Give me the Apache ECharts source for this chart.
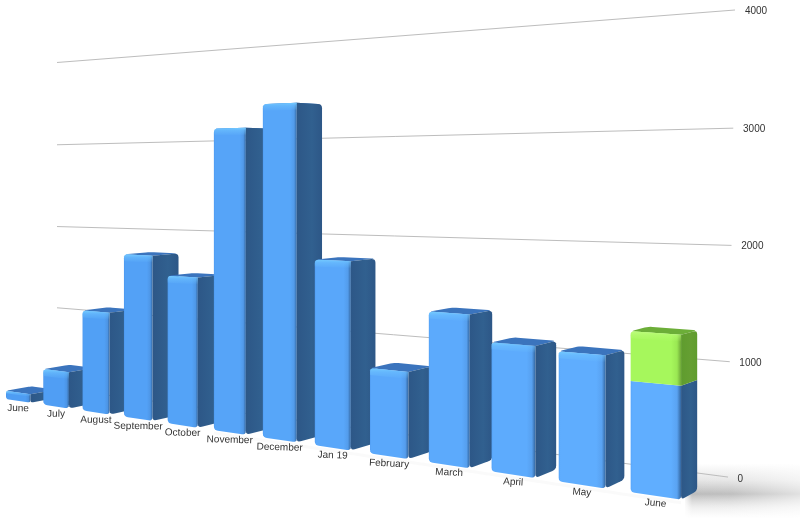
<!DOCTYPE html>
<html>
<head>
<meta charset="utf-8">
<style>html,body{margin:0;padding:0;background:#fff}#c{width:800px;height:519px}</style>
<script src="https://cdn.jsdelivr.net/npm/echarts@6/dist/echarts.min.js"></script>
</head>
<body>
<div id="c"></div>
<script>
const categories = ['June','July','August','September','October','November','December','Jan 19','February','March','April','May','June'];
const baseValues = [100,420,1150,1820,1610,3200,3440,1860,830,1420,1180,1150,950];
const extraValues = [0,0,0,0,0,0,0,0,0,0,0,0,425];
const tickValues = [0,1000,2000,3000,4000];

// Perspective of the picture plane
const planeLeft = 57, planeRight = 735, planeHeight = 468;
const farRatio = 0.6966;
const ratio = x => farRatio + (1 - farRatio) * (x - planeLeft) / (planeRight - planeLeft);
const wallFloor = x => 388.5 + (478 - 388.5) * (x - planeLeft) / (planeRight - planeLeft);
const wallBend = h => h - 6 * (h / planeHeight) * (1 - h / planeHeight);
const frontFloor = x => 403 + 0.149 * (x - 32);
const FRONT_GAIN = 1.05;
const projX = t => (6 + 36.2 * t) / (1 - 0.02514 * t);
const depth = x => 26 - 3.5e-5 * (x - 150) * (x - 150);
const VP = [1300, 160];
const back = (x, y) => { const d = depth(x); return [x + d, y + (VP[1] - y) / (VP[0] - x) * d]; };
const BAR_W = 0.66;

const mix = (a, b, k) => {
  const p = s => [1, 3, 5].map(n => parseInt(s.substr(n, 2), 16));
  const A = p(a), B = p(b);
  return 'rgb(' + A.map((v, n) => Math.round(v + (B[n] - v) * k)).join(',') + ')';
};
const grad = (x0, y0, x1, y1, stops) => new echarts.graphic.LinearGradient(x0, y0, x1, y1, stops.map(s => ({offset: s[0], color: s[1]})));

// Replace polygon corners by small curves; radii holds one radius per corner
function rounded(points, radii) {
  const out = [], n = points.length;
  points.forEach((p, j) => {
    const r = radii[j];
    if (!r) { out.push(p); return; }
    const a = points[(j + n - 1) % n], b = points[(j + 1) % n];
    const to = (q) => { const dx = q[0] - p[0], dy = q[1] - p[1], l = Math.hypot(dx, dy) || 1, m = Math.min(r, l / 2); return [p[0] + dx / l * m, p[1] + dy / l * m]; };
    const s = to(a), e = to(b);
    for (let u = 0; u <= 1.001; u += 0.25) {
      const v = 1 - u;
      out.push([v * v * s[0] + 2 * v * u * p[0] + u * u * e[0], v * v * s[1] + 2 * v * u * p[1] + u * u * e[1]]);
    }
  });
  return out;
}
const poly = (points, fill) => ({type: 'polygon', shape: {points}, style: {fill}});

function heightOf(api, v) { return api.coord([0, 0])[1] - api.coord([0, v])[1]; }
function tOf(api, i) { return (api.coord([i, 0])[0] - api.coord([0, 0])[0]) / api.size([1, 0])[0]; }

function segment(api, xl, xr, from, to, pal, withTop) {
  const h = v => FRONT_GAIN * heightOf(api, v);
  const yAt = (x, v) => frontFloor(x) - h(v) * ratio(x);
  const fl0 = [xl, yAt(xl, from)], fr0 = [xr, yAt(xr, from)];
  const fl1 = [xl, yAt(xl, to)], fr1 = [xr, yAt(xr, to)];
  const br0 = back(fr0[0], fr0[1]), br1 = back(fr1[0], fr1[1]), bl1 = back(fl1[0], fl1[1]);
  const atFloor = from === 0, tall = fr0[1] - fr1[1];
  const R = Math.min(4, tall / 3), Rb = atFloor ? Math.min(4, tall / 3) : 0, Rt = withTop ? R : 0;
  const out = [];
  if (withTop) out.push(poly(rounded([fl1, fr1, br1, bl1], [R, 0, R, R]), pal.top));
  out.push(poly(rounded([fr0, br0, br1, fr1], [Rb, Rb, Rt, 0]),
    grad(0, 0, 1, 0, [[0, pal.sideA], [0.6, pal.sideB], [1, pal.sideA]])));
  const f = grad(0, 0, 1, 0, [[0, pal.front0], [0.04, pal.front], [0.8, pal.front], [0.92, pal.frontEdge], [1, pal.sideEdge]]);
  out.push(poly(rounded([fl0, fr0, fr1, fl1], [Rb, Rb, 0, Rt]), f));
  if (withTop) {
    const hl = Math.min(7, Math.max(2, tall * 0.3));
    out.push(poly(rounded([fl1, fr1, [xr, fr1[1] + hl], [xl, fl1[1] + hl]], [R, 0, 0, 0]),
      grad(0, 0, 0, 1, [[0, pal.hi], [0.35, pal.hiMid], [1, pal.hiEnd]])));
  }
  return out;
}

const blue = k => ({
  top: '#3b74bd', sideA: '#2d5787', sideB: '#31608f',
  front0: mix('#4791e8', '#57a6fb', k), front: mix('#4e9df3', '#60aeff', k),
  frontEdge: mix('#4a92e2', '#5aa3f2', k), sideEdge: '#33669f',
  hi: '#74caff', hiMid: 'rgba(110,195,255,0.55)', hiEnd: 'rgba(111,196,255,0)'
});
const green = {
  top: '#6cae38', sideA: '#5f9c2e', sideB: '#659f32',
  front0: '#a6f75c', front: '#a6f75c', frontEdge: '#9ae853', sideEdge: '#6ea838',
  hi: '#bcfc7c', hiMid: 'rgba(186,252,120,0.55)', hiEnd: 'rgba(182,251,114,0)'
};

const chart = echarts.init(document.getElementById('c'), null, {renderer: 'canvas'});
chart.setOption({
  animation: false,
  backgroundColor: '#fff',
  grid: {left: planeLeft, right: 800 - planeRight, top: 10, bottom: 41, containLabel: false},
  xAxis: {type: 'category', data: categories, show: false},
  yAxis: {type: 'value', position: 'right', min: 0, max: 4000, interval: 1000, show: false},
  series: [
    {
      type: 'custom', name: 'floor shadow', silent: true, clip: false, z: 1,
      data: [[categories.length - 1, 0]],
      renderItem: (params, api) => {
        const t = tOf(api, api.value(0));
        const xr = projX(t + BAR_W), y = frontFloor(xr);
        const box = [[xr + 4, y - 36], [800, y - 36], [800, y + 19], [xr + 4, y + 19]];
        return {type: 'group', children: [
          {type: 'polyline', shape: {points: [[projX(5), frontFloor(projX(5)) + 3], [xr, y + 3]]},
           style: {stroke: 'rgba(150,150,150,0.05)', lineWidth: 3, fill: null, shadowBlur: 6, shadowColor: 'rgba(120,120,120,0.18)'}},
          {type: 'polygon', shape: {points: box},
           style: {fill: grad(0, 0, 0, 1, [[0, 'rgba(130,130,130,0)'], [0.3, 'rgba(130,130,130,0.2)'], [0.55, 'rgba(115,115,115,0.48)'], [0.8, 'rgba(170,170,170,0.18)'], [1, 'rgba(200,200,200,0)']])}},
          {type: 'polygon', shape: {points: box},
           style: {fill: grad(0, 0, 1, 0, [[0, 'rgba(255,255,255,0.85)'], [0.06, 'rgba(255,255,255,0)'], [0.4, 'rgba(255,255,255,0.05)'], [1, 'rgba(255,255,255,0.55)']])}}
        ]};
      }
    },
    {
      type: 'custom', name: 'gridlines', silent: true, clip: false, z: 2,
      data: tickValues.map(v => [0, v]),
      renderItem: (params, api) => {
        const v = api.value(1);
        const h = wallBend(heightOf(api, v));
        const yLine = x => wallFloor(x) - h * ratio(x);
        const xEnd = 728 + v * 0.00175;
        return {type: 'group', children: [
          {type: 'line', shape: {x1: planeLeft, y1: yLine(planeLeft), x2: xEnd, y2: yLine(xEnd)},
           style: {stroke: '#bdbdbd', lineWidth: 1}},
          {type: 'text', x: 737.5 + v * 0.00185, y: yLine(735) + 1,
           style: {text: String(v), font: '10px "Liberation Sans"', fill: '#333', align: 'left', verticalAlign: 'middle'}}
        ]};
      }
    },
    {
      type: 'custom', name: 'bars', silent: true, clip: false, z: 3,
      data: categories.map((c, i) => [i, baseValues[i], extraValues[i]]),
      renderItem: (params, api) => {
        const i = api.value(0), b = api.value(1), e = api.value(2);
        const t = tOf(api, i);
        const xl = projX(t), xr = projX(t + BAR_W);
        const k = i / (categories.length - 1);
        let kids = segment(api, xl, xr, 0, b, blue(k), e === 0);
        if (e > 0) kids = kids.concat(segment(api, xl, xr, b, b + e, green, true));
        return {type: 'group', children: kids};
      }
    },
    {
      type: 'custom', name: 'category labels', silent: true, clip: false, z: 4,
      data: categories.map((c, i) => [i]),
      renderItem: (params, api) => {
        const i = api.value(0);
        const k = i / (categories.length - 1);
        const x = projX(tOf(api, i) + BAR_W / 2);
        return {type: 'text', x, y: frontFloor(x) + 7.5, rotation: -0.01 - 0.08 * k * k,
          style: {text: categories[i], font: '10px "Liberation Sans"', fill: '#333', align: 'center', verticalAlign: 'middle'}};
      }
    }
  ]
});
</script>
</body>
</html>
